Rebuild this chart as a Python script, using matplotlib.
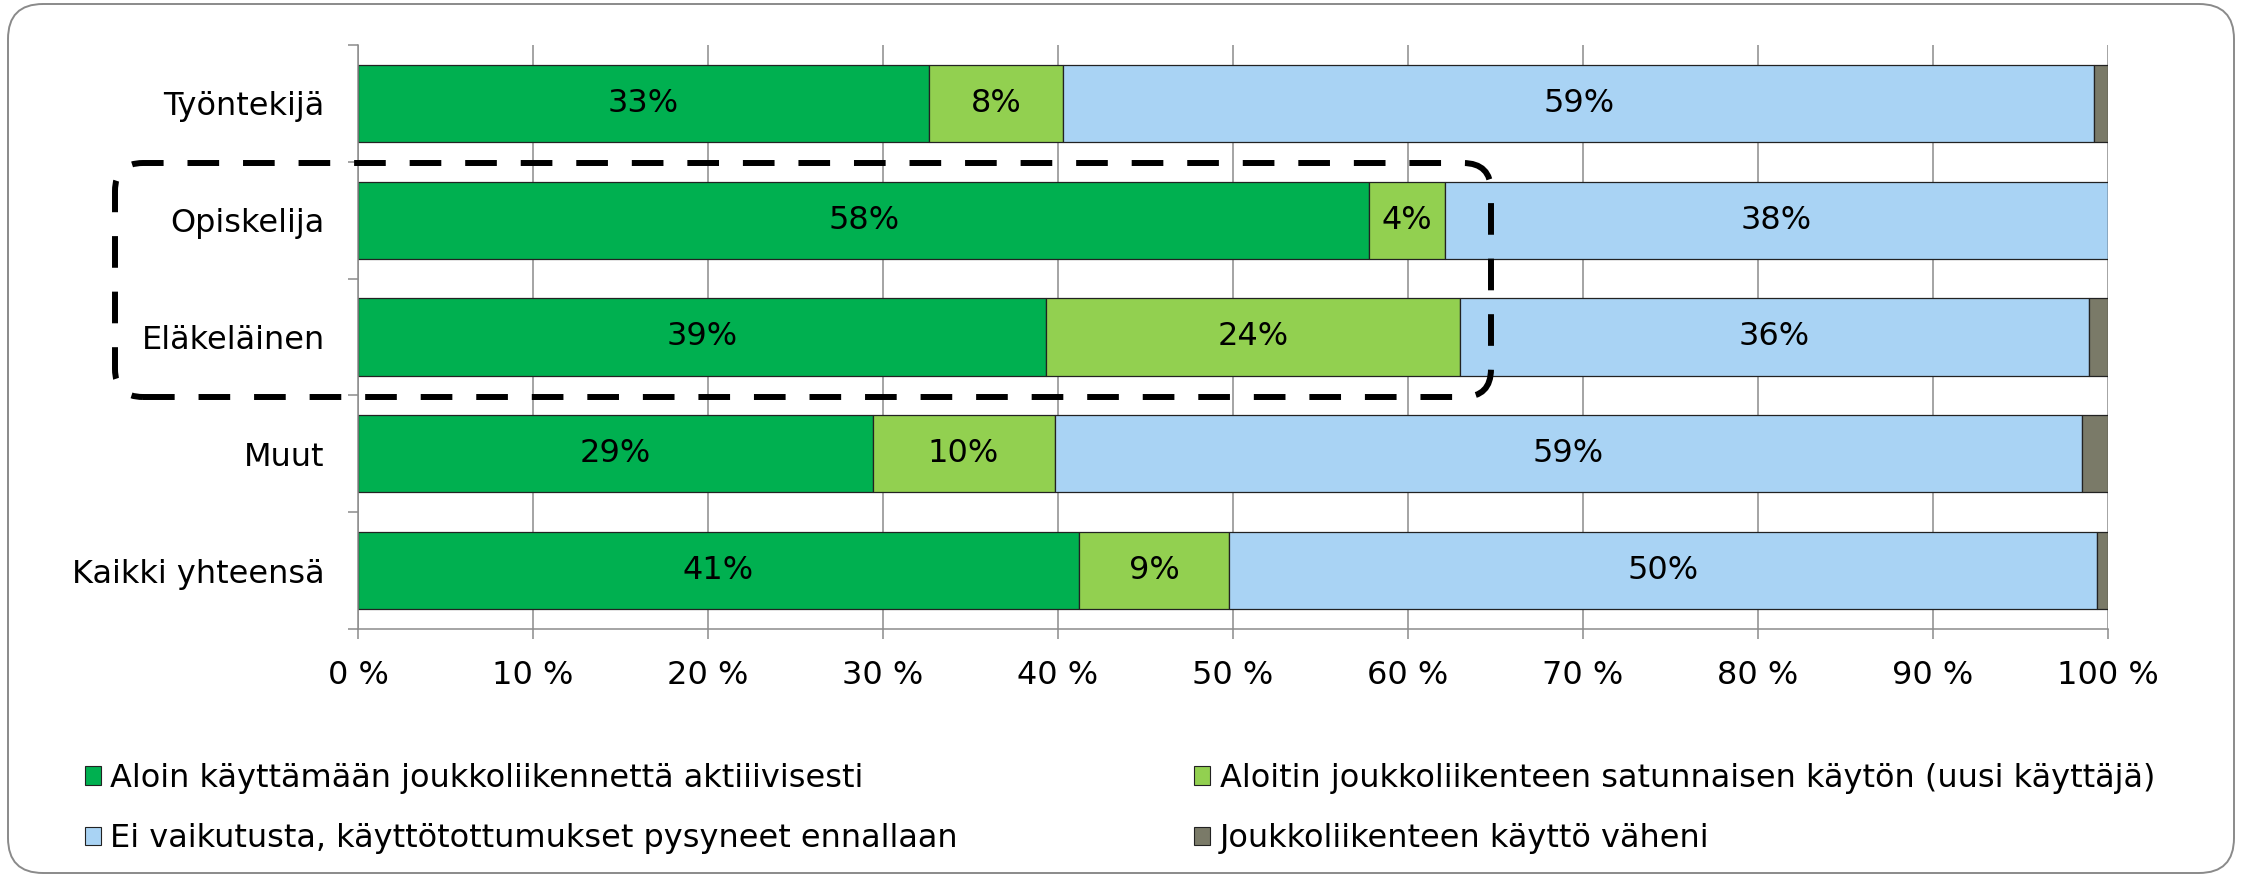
import numpy as np
import matplotlib
matplotlib.use("Agg")
import matplotlib.pyplot as plt
from matplotlib.patches import FancyBboxPatch, Patch

# ----------------------------------------------------------------------
# data (percent shares)
groups = ["Työntekijä", "Opiskelija", "Eläkeläinen", "Muut", "Kaikki yhteensä"]
aktiivinen = [32.6, 57.8, 39.3, 29.4, 41.2]
satunnainen = [7.7, 4.3, 23.7, 10.4, 8.6]
ei_vaikutusta = [58.9, 37.9, 35.9, 58.7, 49.6]
vaheni = [0.8, 0.0, 1.1, 1.5, 0.6]

series_names = [
    "Aloin käyttämään joukkoliikennettä aktiiivisesti",
    "Aloitin joukkoliikenteen satunnaisen käytön (uusi käyttäjä)",
    "Ei vaikutusta, käyttötottumukset pysyneet ennallaan",
    "Joukkoliikenteen käyttö väheni",
]
xticks = [0, 10, 20, 30, 40, 50, 60, 70, 80, 90, 100]

C_GREEN, C_LGREEN, C_BLUE, C_GRAY = "#00b050", "#92d050", "#a9d3f4", "#7a7a68"
FS = 23

plt.rcParams.update({
    "font.family": "DejaVu Sans",
    "font.size": FS,
})

fig = plt.figure(figsize=(22.42, 8.77), dpi=100)
ax = fig.add_axes([0.1597, 0.2828, 0.7805, 0.6659])

y = np.arange(len(groups))
series = [aktiivinen, satunnainen, ei_vaikutusta, vaheni]
colors = [C_GREEN, C_LGREEN, C_BLUE, C_GRAY]
left = np.zeros(len(groups))
for k, (vals, col) in enumerate(zip(series, colors)):
    vals = np.array(vals)
    ax.barh(y, vals, left=left, height=0.66, color=col,
            edgecolor="#222222", linewidth=0.9, zorder=2)
    if k < 3:
        for yi, (l, v) in enumerate(zip(left, vals)):
            ax.text(l + v / 2, yi, f"{round(v)}%", ha="center", va="center",
                    fontsize=FS, color="black", zorder=3)
    left += vals

ax.set_xlim(0, 100)
ax.set_ylim(len(groups) - 0.5, -0.5)
ax.set_xticks(xticks)
ax.set_xticklabels([f"{v} %" for v in xticks])
ax.set_yticks(y)
ax.set_yticklabels(groups)
ax.set_yticks(np.arange(len(groups) + 1) - 0.5, minor=True)

ax.grid(axis="x", color="#8c8c8c", lw=1.1, zorder=0)
ax.set_axisbelow(True)
for s in ("top", "right"):
    ax.spines[s].set_visible(False)
for s in ("left", "bottom"):
    ax.spines[s].set_color("#8c8c8c")
    ax.spines[s].set_linewidth(1.1)
ax.tick_params(axis="x", direction="out", length=7, width=1.1,
               color="#8c8c8c", pad=15)
ax.tick_params(axis="y", which="major", length=0, pad=24)
ax.tick_params(axis="y", which="minor", direction="out", length=7,
               width=1.1, color="#8c8c8c")

# legend: two columns, order green/blue | light green/gray
handles = [Patch(facecolor=c, edgecolor="#222222", linewidth=0.8) for c in colors]
order = [0, 2, 1, 3]
fig.legend([handles[i] for i in order], [series_names[i] for i in order],
           ncol=2, loc="center left", bbox_to_anchor=(0.025, 0.078),
           frameon=False, fontsize=FS, handlelength=0.5, handleheight=0.5,
           handletextpad=0.3, columnspacing=7.4, labelspacing=0.92)

# outer rounded frame
fig.add_artist(FancyBboxPatch((0.08, 0.04), 22.26, 8.69,
                              boxstyle="round,pad=0,rounding_size=0.35",
                              transform=fig.dpi_scale_trans, facecolor="none",
                              edgecolor="#8a8a8a", linewidth=1.4, zorder=0))

# dashed highlight around Opiskelija / Eläkeläinen
fig.add_artist(FancyBboxPatch((1.15, 4.80), 13.76, 2.34,
                              boxstyle="round,pad=0,rounding_size=0.28",
                              transform=fig.dpi_scale_trans, facecolor="none",
                              edgecolor="black", linewidth=4.3,
                              linestyle=(0, (5.3, 4.0)), zorder=5))

fig.savefig("out.png", dpi=100)
